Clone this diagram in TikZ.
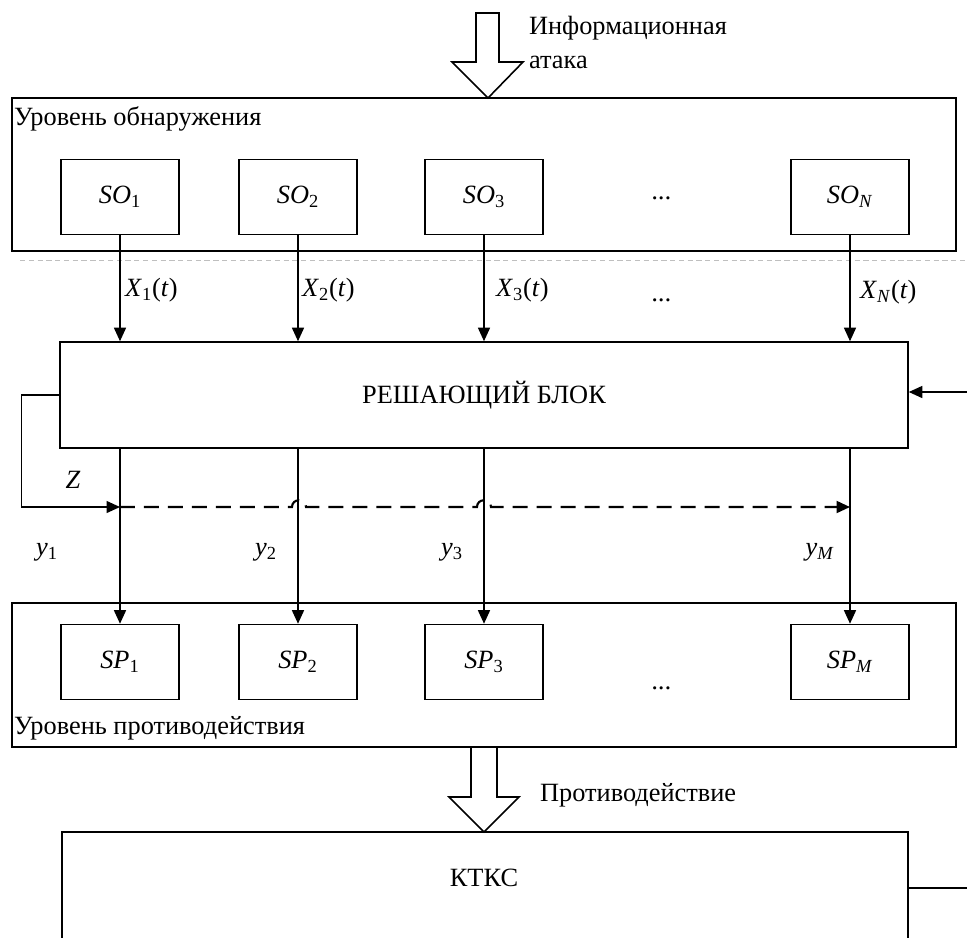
\documentclass[tikz,border=0pt]{standalone}
\usepackage{fontspec}
\setmainfont{Liberation Serif}
\usetikzlibrary{positioning, arrows.meta, fit}

\begin{document}
\begin{tikzpicture}[
    x=0.02cm, y=-0.02cm,
    every node/.style={font=\fontsize{15}{18}\selectfont},
    level/.style={rectangle, draw, line width=0.8pt, inner sep=0pt},
    block/.style={rectangle, draw, line width=0.9pt, inner sep=0pt},
    smallblock/.style={rectangle, draw, line width=0.9pt, minimum width=2.36cm, minimum height=1.5cm, align=center},
    tag/.style={anchor=west, inner sep=1pt},
    arr/.style={-{Triangle[length=0.27cm, width=0.24cm]}, line width=0.8pt},
    dashline/.style={arr, line width=1.2pt, dash pattern=on 0.3cm off 0.18cm},
    bigarr/.style={draw, line width=0.9pt, fill=white},
]
    \useasboundingbox (0,0) rectangle (967,937);

    % detection level
    \node[level, fit={(12,98) (956,251)}] (det) {};
    \node[tag] (dettxt) at (12,119) {Уровень обнаружения};
    \node[smallblock] (so1) at (120,197) {\textit{SO}\textsubscript{1}};
    \node[smallblock] (so2) at (298,197) {\textit{SO}\textsubscript{2}};
    \node[smallblock] (so3) at (484,197) {\textit{SO}\textsubscript{3}};
    \node (dots1) at (662,198) {\textit{...}};
    \node[smallblock] (son) at (850,197) {\textit{SO}\textsubscript{\textit{N}}};

    % attack arrow
    \draw[bigarr] (476,13) -- (499,13) -- (499,62) -- (523,62) -- (488,98)
        -- (452,62) -- (476,62) -- cycle;
    \node[tag] (att1) at (527,28) {Информационная};
    \node[tag] (att2) at (527,62) {атака};

    % separator
    \draw[gray!50, line width=0.3pt, densely dashed] (20,260) -- (967,260);

    % decision block
    \node[block, fit={(60,342) (908,448)}] (dec) {};
    \node (dectxt) at (dec.center) {РЕШАЮЩИЙ БЛОК};
    \coordinate (in) at (967,392);
    \draw[arr] (in) -- (in -| dec.east);

    \draw[arr] (so1) -- (so1 |- dec.north);
    \draw[arr] (so2) -- (so2 |- dec.north);
    \draw[arr] (so3) -- (so3 |- dec.north);
    \draw[arr] (son) -- (son |- dec.north);
    \node[tag] (x1) at (123,290) {\textit{X}\textsubscript{1}(\textit{t})};
    \node[tag] (x2) at (300,290) {\textit{X}\textsubscript{2}(\textit{t})};
    \node[tag] (x3) at (494,290) {\textit{X}\textsubscript{3}(\textit{t})};
    \node (dots2) at (662,300) {\textit{...}};
    \node[tag] (xn) at (858,292) {\textit{X}\textsubscript{\textit{N}}(\textit{t})};

    % counteraction level
    \node[level, fit={(12,603) (956,747)}] (cnt) {};
    \node[tag] (cnttxt) at (12,728) {Уровень противодействия};
    \node[smallblock] (sp1) at (120,662) {\textit{SP}\textsubscript{1}};
    \node[smallblock] (sp2) at (298,662) {\textit{SP}\textsubscript{2}};
    \node[smallblock] (sp3) at (484,662) {\textit{SP}\textsubscript{3}};
    \node (dots3) at (662,688) {\textit{...}};
    \node[smallblock] (spm) at (850,662) {\textit{SP}\textsubscript{\textit{M}}};

    \draw[arr] (so1 |- dec.south) -- (sp1);
    \draw[arr] (so2 |- dec.south) -- (sp2);
    \draw[arr] (so3 |- dec.south) -- (sp3);
    \draw[arr] (son |- dec.south) -- (spm);
    \node (y1) at (47,552) {\textit{y}\textsubscript{1}};
    \node (y2) at (266,552) {\textit{y}\textsubscript{2}};
    \node (y3) at (452,552) {\textit{y}\textsubscript{3}};
    \node (ym) at (820,552) {\textit{y}\textsubscript{\textit{M}}};

    % feedback Z
    \coordinate (zin) at (120,507);
    \coordinate (zout) at (850,507);
    \draw[arr] (dec.west) -- ++(-38,0) |- (zin);
    \node (z) at (73,480) {\textit{Z}};
    \draw[dashline] (zin) -- (292,507) .. controls (292,498) and (306,498) .. (306,507)
        -- (477,507) .. controls (477,498) and (491,498) .. (491,507) -- (zout);

    % counteraction arrow
    \draw[bigarr] (471,747) -- (497,747) -- (497,797) -- (519,797) -- (484,832)
        -- (449,797) -- (471,797) -- cycle;
    \node[tag] (ctr) at (538,795) {Противодействие};

    % KTKS
    \node[block, fit={(62,832) (908,980)}] (ktks) {};
    \node (ktkstxt) at (484,878) {КТКС};
    \coordinate (out) at (967,888);
    \draw[line width=0.8pt] (out -| ktks.east) -- (out);
\end{tikzpicture}
\end{document}
